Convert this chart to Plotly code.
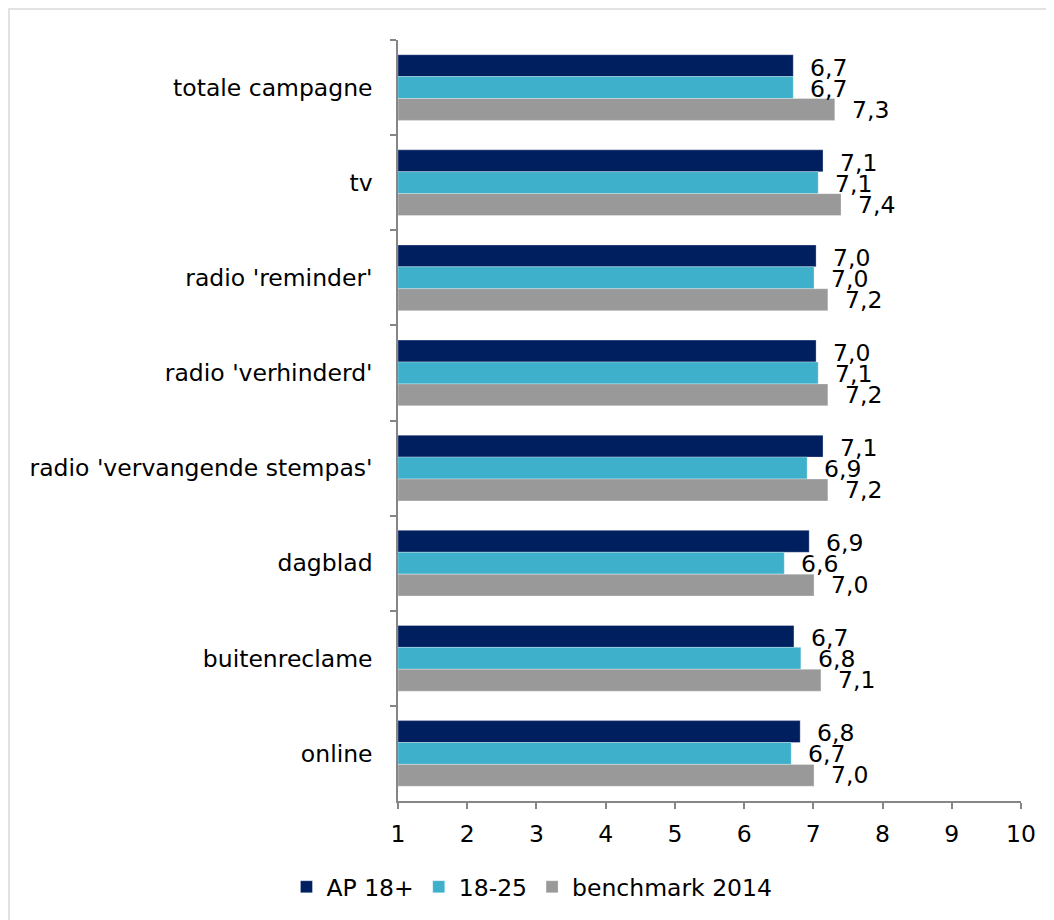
import plotly.graph_objects as go

categories = ["totale campagne", "tv", "radio 'reminder'", "radio 'verhinderd'",
              "radio 'vervangende stempas'", "dagblad", "buitenreclame", "online"]
ap18 = [6.71, 7.14, 7.04, 7.04, 7.14, 6.94, 6.72, 6.81]
y1825 = [6.71, 7.07, 7.01, 7.07, 6.91, 6.58, 6.82, 6.68]
bench = [7.31, 7.40, 7.21, 7.21, 7.21, 7.01, 7.11, 7.01]
series_names = ["AP 18+", "18-25", "benchmark 2014"]
colors = ["#001F5F", "#3EB0CB", "#999999"]
x_ticks = [1, 2, 3, 4, 5, 6, 7, 8, 9, 10]

FONT = "DejaVu Sans, Verdana, sans-serif"
FS = 23.5

def fmt(v):
    return f"{v:.1f}".replace(".", ",")

fig = go.Figure()
all_series = [ap18, y1825, bench]
for name, vals, col in zip(series_names, all_series, colors):
    fig.add_trace(go.Bar(
        y=categories, x=[v - 1 for v in vals], base=1, name=name, orientation="h",
        marker=dict(color=col, line=dict(color="rgba(255,255,255,0.6)", width=0.5)),
        hoverinfo="skip",
    ))

# value labels
offsets = [-21, 0, 21]
for vals, dy in zip(all_series, offsets):
    for c, v in zip(categories, vals):
        fig.add_annotation(x=v, y=c, text=fmt(v), showarrow=False, xanchor="left",
                           xshift=15, yshift=-dy - 1,
                           font=dict(family=FONT, size=FS, color="#000000"))

# outer chart border (left/top visible)
fig.add_shape(type="rect", xref="paper", yref="paper",
              x0=-0.6244, x1=1.07, y0=-0.17, y1=1.0407,
              line=dict(color="#D9D9D9", width=1.5), fillcolor="rgba(0,0,0,0)", layer="below")

fig.update_layout(
    width=1046, height=912,
    margin=dict(l=390, r=33, t=32, b=118),
    paper_bgcolor="white", plot_bgcolor="white",
    barmode="group", bargap=0.31, bargroupgap=0,
    font=dict(family=FONT, size=FS, color="#000000"),
    showlegend=True,
    legend=dict(orientation="h", x=0.215, xanchor="center", y=-0.1115, yanchor="middle",
                font=dict(family=FONT, size=FS), traceorder="normal",
                itemwidth=30),
    xaxis=dict(range=[1, 10], tickvals=x_ticks, ticktext=[str(t) for t in x_ticks],
               showgrid=False, zeroline=False, showline=True, linecolor="#868686", linewidth=1.5,
               ticks="outside", ticklen=6, tickcolor="#868686", tickwidth=1.5,
               ticklabelstandoff=5,
               tickfont=dict(family=FONT, size=FS)),
    yaxis=dict(categoryorder="array", categoryarray=categories, autorange="reversed",
               showgrid=False, zeroline=False, showline=True, linecolor="#868686", linewidth=1.5,
               ticks="outside", ticklen=6, tickcolor="#868686", tickwidth=1.5,
               tickson="boundaries", ticklabelstandoff=19,
               tickfont=dict(family=FONT, size=FS)),
)

fig.write_html("out.html")
